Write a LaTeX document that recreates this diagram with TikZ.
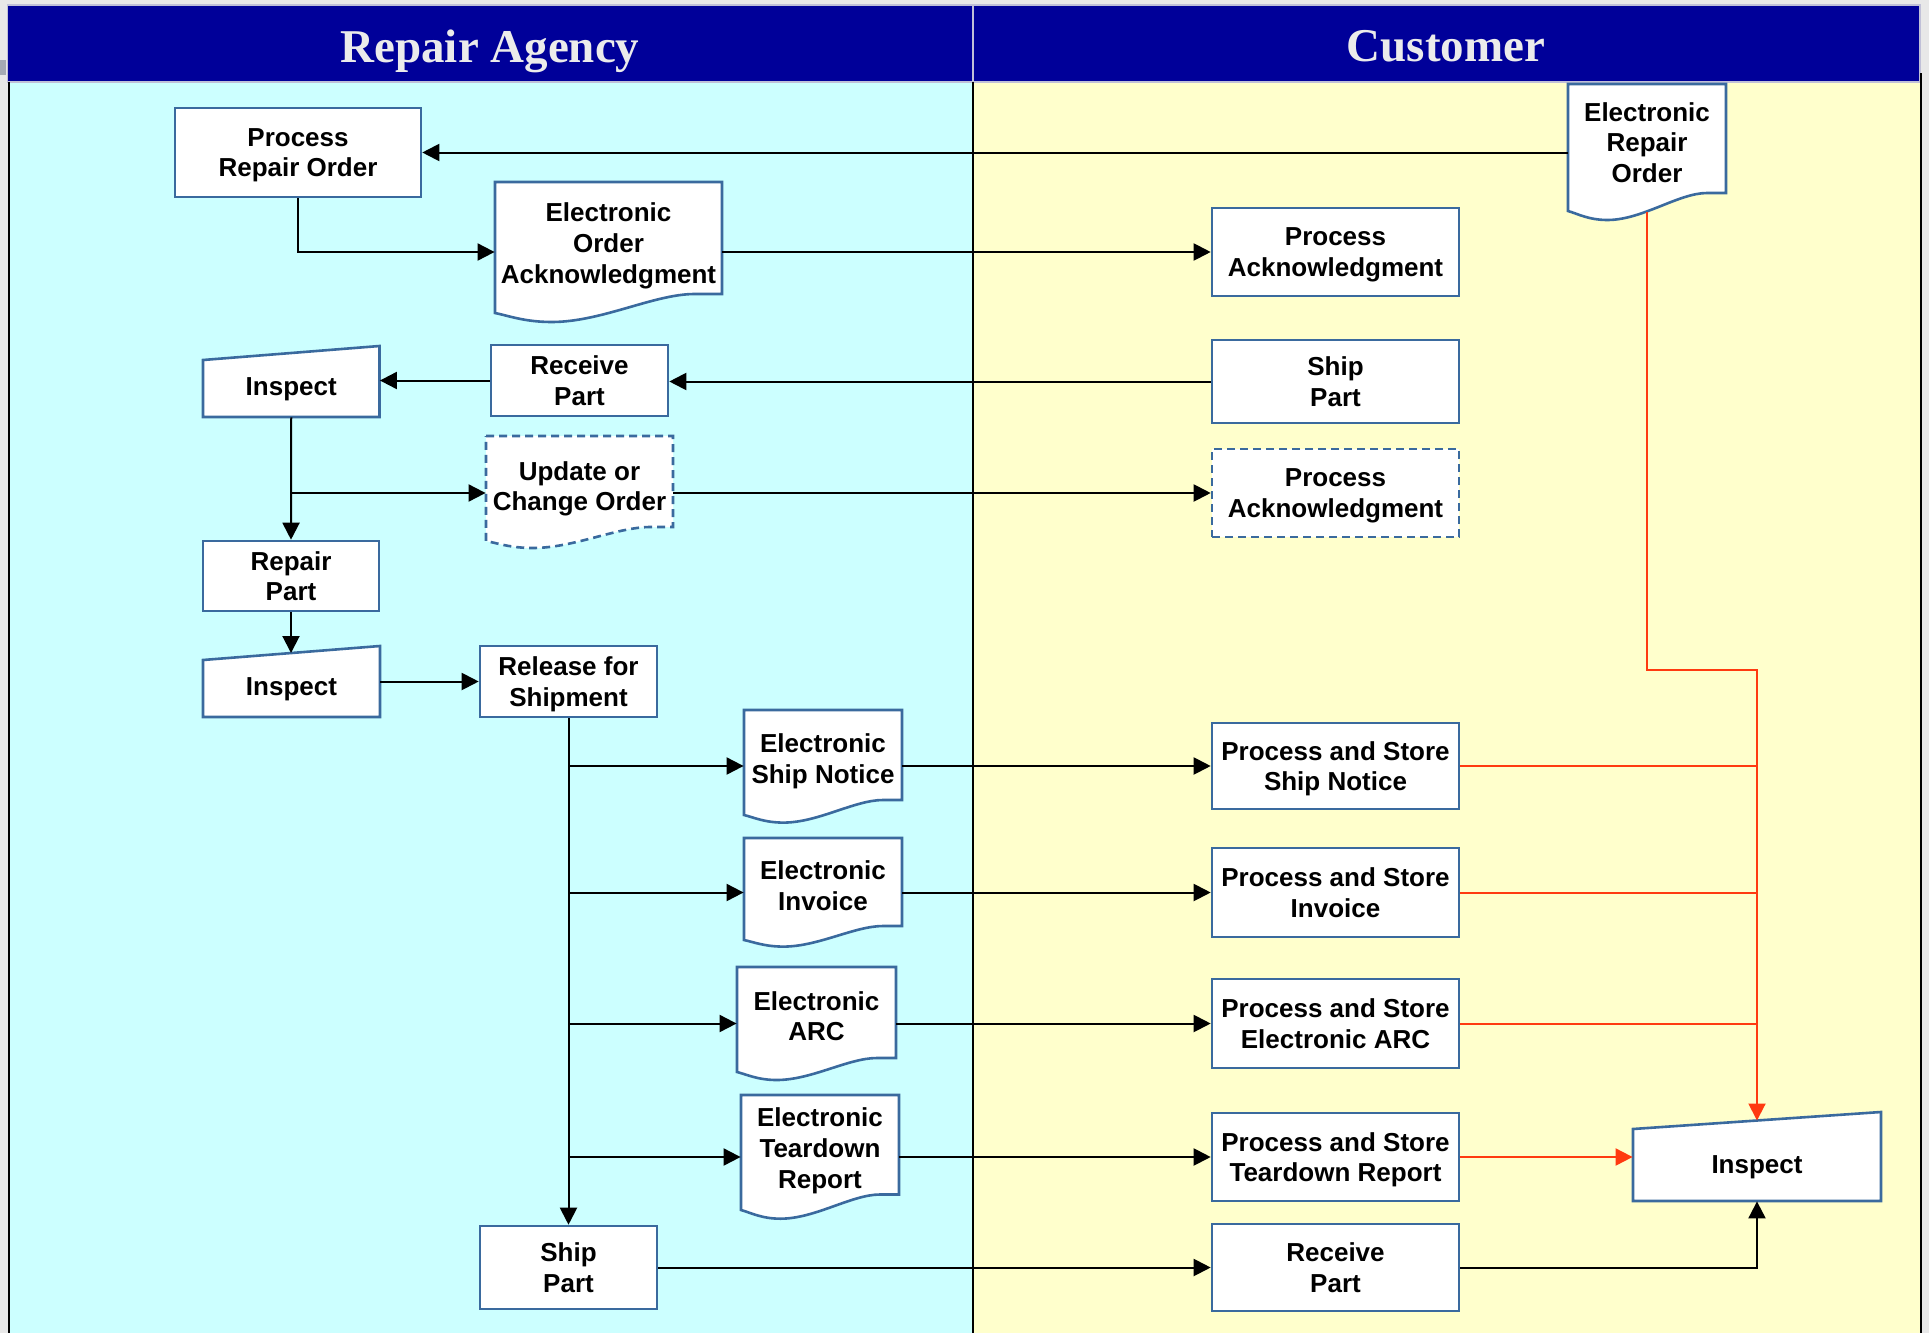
\documentclass[tikz,border=0pt]{standalone}
\usepackage{fontspec}
\setmainfont{Liberation Serif}
\setsansfont{Liberation Sans}
\usetikzlibrary{arrows.meta}
\definecolor{hdrblue}{HTML}{000099}
\definecolor{lanecyan}{HTML}{CCFFFF}
\definecolor{laneyellow}{HTML}{FFFFCC}
\definecolor{boxblue}{HTML}{3A6A9E}
\definecolor{redline}{HTML}{FF3A10}
\definecolor{bggray}{HTML}{E8E8E8}
\definecolor{markgray}{HTML}{A4AAB4}
\definecolor{hdrline}{HTML}{C0C0D8}
\definecolor{hdrtext}{HTML}{EBEBEB}
\newcommand\boxtextfont{\sffamily\bfseries\fontsize{13}{15.4}\selectfont}
\newcommand\hdrfont{\rmfamily\bfseries\fontsize{23.5}{28}\selectfont}
% document shape: L, T, R, yLeftBottom, yRightBottom, yLowest, style
\newcommand\docoutline[7]{%
  \pgfmathsetmacro\mydocw{#3-#1}%
  \filldraw[#7] (#1,#2) -- (#3,#2) -- (#3,#5) -- ({#3-0.12*\mydocw},#5)
    .. controls ({#3-0.30*\mydocw},#5) and ({#1+0.47*\mydocw},#6) .. ({#1+0.25*\mydocw},#6)
    .. controls ({#1+0.13*\mydocw},#6) and ({#1+0.06*\mydocw},{#4+0.3*(#6-#4)}) .. (#1,#4) -- cycle;}
% manual input shape: L, yTopLeft, R, yTopRight, yBottom, style
\newcommand\manualoutline[6]{%
  \filldraw[#6] (#1,#2) -- (#3,#4) -- (#3,#5) -- (#1,#5) -- cycle;}
\tikzset{
  sz/.style 2 args={minimum width=#1*0.5pt, minimum height=#2*0.5pt},
  txt/.style={font=\boxtextfont, align=center, inner sep=0pt, text depth=0pt},
  box/.style={txt, draw=boxblue, line width=1.3pt, fill=white},
  dashbox/.style={box, dash pattern=on 4pt off 2.5pt},
  shp/.style={draw=boxblue, line width=1.3pt, fill=white, line join=miter},
  dashshp/.style={shp, dash pattern=on 4pt off 2.5pt},
  conn/.style={line width=1pt, black},
  arr/.style={conn, -{Triangle[length=8.5pt,width=8.5pt]}},
  redconn/.style={line width=1pt, redline},
  redarr/.style={redconn, -{Triangle[length=8.5pt,width=8.5pt]}},
  hdr/.style={font=\hdrfont, text=hdrtext, inner sep=0pt, text depth=0pt}
}
\begin{document}
\begin{tikzpicture}[x=0.5pt,y=-0.5pt]
\useasboundingbox (0,0) rectangle (1929,1333);
\fill[bggray] (0,0) rectangle (1929,1333);
\fill[markgray] (0,60) rectangle (6,75);
\fill[lanecyan] (8,82) rectangle (973,1333);
\fill[laneyellow] (973,82) rectangle (1921,1333);
\filldraw[fill=hdrblue, draw=hdrline, line width=0.6pt] (7.5,5) rectangle (973,82);
\filldraw[fill=hdrblue, draw=hdrline, line width=0.6pt] (973,5) rectangle (1920,82);
\draw[line width=1pt] (8.5,82) -- (8.5,1333);
\draw[line width=1pt] (973,82) -- (973,1333);
\draw[line width=1pt] (1921,73) -- (1921,1333);
\node[hdr] (hra) at (490,46) {Repair Agency};
\node[hdr] (hcu) at (1446,46) {Customer};

% custom shapes
\docoutline{495}{182}{722}{313}{294}{322}{shp}
\docoutline{1568}{84}{1726}{211}{193}{220}{shp}
\docoutline{486}{436}{673}{541}{527}{548}{dashshp}
\docoutline{744}{710}{902}{815}{800}{822.6}{shp}
\docoutline{744}{838}{902}{940}{926}{946.6}{shp}
\docoutline{737}{967}{896}{1072}{1058}{1080}{shp}
\docoutline{741}{1095}{899}{1210}{1194.5}{1218.7}{shp}
\manualoutline{203}{360}{379.5}{346}{417}{shp}
\manualoutline{203}{660}{380}{646}{717}{shp}
\manualoutline{1633}{1129}{1881}{1112}{1201}{shp}

% nodes
\node[box, sz={246}{89}] (pro) at (298,152.5) {Process\\Repair Order};
\node[txt, sz={227}{10}] (ack) at (608.5,243) {Electronic\\Order\\Acknowledgment};
\node[txt, sz={158}{10}] (ero) at (1647,142.5) {Electronic\\Repair\\Order};
\node[box, sz={247}{88}] (pack) at (1335.5,252) {Process\\Acknowledgment};
\node[box, sz={247}{83}] (shipR) at (1335.5,381.5) {Ship\\Part};
\node[box, sz={177}{71}] (recvL) at (579.5,380.5) {Receive\\Part};
\node[txt, sz={176.5}{60}] (insp1) at (291.25,387) {Inspect};
\node[txt, sz={187}{10}] (upd) at (579.5,486) {Update or\\Change Order};
\node[dashbox, sz={247}{88}] (pack2) at (1335.5,493) {Process\\Acknowledgment};
\node[box, sz={176}{70}] (repair) at (291,576) {Repair\\Part};
\node[txt, sz={177}{60}] (insp2) at (291.5,687) {Inspect};
\node[box, sz={177}{71}] (rel) at (568.5,681.5) {Release for\\Shipment};
\node[txt, sz={158}{10}] (shipn) at (823,758.7) {Electronic\\Ship Notice};
\node[txt, sz={158}{10}] (inv) at (823,885.5) {Electronic\\Invoice};
\node[txt, sz={159}{10}] (arc) at (816.5,1016) {Electronic\\ARC};
\node[txt, sz={158}{10}] (tear) at (820,1148) {Electronic\\Teardown\\Report};
\node[box, sz={177}{83}] (shipL) at (568.5,1267.5) {Ship\\Part};
\node[box, sz={247}{86}] (psn) at (1335.5,766) {Process and Store\\Ship Notice};
\node[box, sz={247}{89}] (psi) at (1335.5,892.5) {Process and Store\\Invoice};
\node[box, sz={247}{89}] (psa) at (1335.5,1023.5) {Process and Store\\Electronic ARC};
\node[box, sz={247}{88}] (pst) at (1335.5,1157) {Process and Store\\Teardown Report};
\node[box, sz={247}{87}] (recvR) at (1335.5,1267.5) {Receive\\Part};
\node[txt, sz={248}{72}] (insp3) at (1757,1165) {Inspect};
\coordinate (erob) at (1647,212);
\coordinate (redturn) at (1647,670);
\coordinate (insp3top) at (1757,1120.5);
\coordinate (insp2top) at (291,653);

% connectors
\draw[arr] (ero.west |- pro.east) -- (pro.east);
\draw[arr] (pro.south) |- (ack.west |- pack.west);
\draw[arr] (ack.east |- pack.west) -- (pack.west);
\draw[arr] (shipR.west) -- (recvL.east |- shipR.west);
\draw[arr] (recvL.west) -- (insp1.east |- recvL.west);
\draw[arr] (insp1.south) -- (repair.north);
\draw[arr] (insp1.south |- pack2.west) -- (upd.west |- pack2.west);
\draw[arr] (upd.east |- pack2.west) -- (pack2.west);
\draw[arr] (repair.south) -- (insp2top);
\draw[arr] (insp2.east |- rel.west) -- (rel.west);
\draw[arr] (rel.south) -- (shipL.north);
\foreach \dc/\pc in {shipn/psn, inv/psi, arc/psa, tear/pst} {
  \draw[arr] (rel.south |- \pc.west) -- (\dc.west |- \pc.west);
  \draw[arr] (\dc.east |- \pc.west) -- (\pc.west);
}
\draw[arr] (shipL.east) -- (recvR.west);
\draw[redarr] (erob) -- (redturn) -| (insp3top);
\foreach \pc in {psn,psi,psa} \draw[redconn] (\pc.east) -- (\pc.east -| insp3top);
\draw[redarr] (pst.east) -- (insp3.west |- pst.east);
\draw[arr] (recvR.east) -| (insp3.south);
\end{tikzpicture}
\end{document}
